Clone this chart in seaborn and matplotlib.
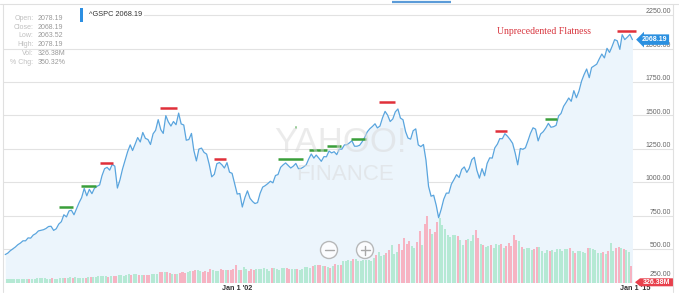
import numpy as np
import pandas as pd
import matplotlib
matplotlib.use("Agg")
import matplotlib.pyplot as plt
import matplotlib.transforms as mtransforms
from matplotlib.patches import Circle, Rectangle, Polygon
import seaborn as sns

# ---------------- data ----------------
# S&P 500 month-end closes, Dec 1994 .. Jun 2015
close = [459,
    470, 487, 501, 515, 533, 545, 562, 562, 584, 582, 605, 616,
    636, 640, 645, 654, 669, 671, 640, 652, 687, 705, 757, 741,
    786, 791, 757, 801, 848, 885, 954, 899, 947, 915, 955, 970,
    980, 1049, 1102, 1112, 1091, 1134, 1121, 957, 1017, 1099, 1164, 1229,
    1280, 1238, 1286, 1335, 1302, 1373, 1329, 1320, 1283, 1363, 1389, 1469,
    1394, 1366, 1499, 1452, 1421, 1455, 1431, 1518, 1437, 1429, 1315, 1320,
    1366, 1240, 1160, 1249, 1256, 1224, 1211, 1134, 1041, 1060, 1139, 1148,
    1130, 1107, 1147, 1076, 1067, 990, 912, 916, 815, 886, 936, 880,
    856, 841, 848, 917, 964, 975, 990, 1008, 996, 1051, 1058, 1112,
    1131, 1145, 1126, 1107, 1121, 1141, 1102, 1104, 1115, 1130, 1174, 1212,
    1181, 1204, 1181, 1157, 1192, 1191, 1234, 1220, 1229, 1207, 1249, 1248,
    1280, 1281, 1295, 1311, 1270, 1270, 1277, 1304, 1336, 1378, 1401, 1418,
    1438, 1407, 1421, 1482, 1531, 1503, 1455, 1474, 1527, 1549, 1481, 1468,
    1379, 1331, 1323, 1386, 1400, 1280, 1267, 1283, 1166, 969, 896, 903,
    826, 735, 798, 873, 919, 919, 987, 1021, 1057, 1036, 1096, 1115,
    1074, 1104, 1169, 1187, 1089, 1031, 1102, 1049, 1141, 1183, 1181, 1258,
    1286, 1327, 1326, 1364, 1345, 1321, 1292, 1219, 1131, 1253, 1247, 1258,
    1312, 1366, 1408, 1398, 1310, 1362, 1379, 1407, 1441, 1412, 1416, 1426,
    1498, 1515, 1569, 1598, 1631, 1606, 1686, 1633, 1682, 1757, 1806, 1848,
    1783, 1859, 1872, 1884, 1924, 1960, 1931, 2003, 1972, 2018, 2068, 2059,
    1995, 2105, 2068, 2086, 2107, 2068]
close_dates = pd.date_range("1994-12-31", periods=len(close), freq="ME")

# average daily volume (billions of shares), Jan 1995 .. Jun 2015
volume = [
    0.33, 0.34, 0.35, 0.36, 0.36, 0.37, 0.37, 0.36, 0.38, 0.38, 0.39, 0.40,
    0.45, 0.45, 0.43, 0.46, 0.41, 0.38, 0.43, 0.36, 0.40, 0.43, 0.45, 0.46,
    0.52, 0.53, 0.50, 0.53, 0.50, 0.52, 0.52, 0.50, 0.53, 0.62, 0.57, 0.57,
    0.66, 0.63, 0.65, 0.67, 0.60, 0.67, 0.67, 0.70, 0.76, 0.75, 0.70, 0.75,
    0.87, 0.80, 0.85, 0.90, 0.81, 0.78, 0.76, 0.74, 0.80, 0.90, 0.90, 0.91,
    1.05, 1.05, 1.13, 1.05, 0.95, 0.93, 0.90, 0.90, 0.98, 1.10, 1.00, 1.05,
    1.20, 1.15, 1.30, 1.30, 1.15, 1.10, 1.15, 1.10, 1.40, 1.30, 1.20, 1.25,
    1.40, 1.35, 1.30, 1.30, 1.30, 1.40, 1.85, 1.30, 1.35, 1.60, 1.40, 1.25,
    1.40, 1.35, 1.40, 1.40, 1.45, 1.55, 1.45, 1.25, 1.50, 1.50, 1.40, 1.35,
    1.55, 1.50, 1.55, 1.45, 1.40, 1.40, 1.40, 1.30, 1.40, 1.60, 1.60, 1.50,
    1.75, 1.80, 1.85, 1.80, 1.70, 1.75, 1.60, 1.55, 1.70, 1.90, 1.80, 1.80,
    2.20, 2.25, 2.30, 2.25, 2.45, 2.40, 2.25, 2.20, 2.30, 2.35, 2.35, 2.25,
    2.60, 2.90, 3.20, 2.80, 2.90, 3.10, 3.40, 3.90, 3.00, 3.20, 4.00, 3.40,
    4.60, 4.00, 4.30, 3.80, 3.60, 4.20, 5.40, 3.90, 6.10, 6.95, 5.60, 5.10,
    5.30, 6.30, 6.70, 6.00, 5.60, 5.00, 4.70, 5.00, 4.90, 4.80, 4.40, 3.90,
    4.40, 4.50, 4.30, 4.90, 5.50, 4.60, 4.00, 3.90, 3.70, 3.80, 3.90, 3.60,
    4.00, 3.90, 4.00, 3.60, 3.80, 4.10, 3.80, 4.90, 4.40, 4.30, 3.70, 3.50,
    3.60, 3.60, 3.40, 3.50, 3.70, 3.70, 3.30, 3.10, 3.40, 3.30, 3.40, 3.20,
    3.50, 3.50, 3.30, 3.50, 3.50, 3.60, 3.30, 3.10, 3.30, 3.30, 3.20, 3.10,
    3.60, 3.60, 3.50, 3.40, 3.10, 3.10, 3.20, 3.00, 3.30, 4.10, 3.30, 3.60,
    3.70, 3.60, 3.50, 3.40, 3.20, 1.70]
volume_dates = close_dates[1:] - pd.Timedelta(days=15)

# "flat" markers: start, end, level, colour key
flat_start = ["1996-10-05", "1997-06-25", "1998-02-06", "2000-01-23", "2001-10-27",
              "2003-12-01", "2004-06-20", "2004-12-01", "2005-07-01", "2006-04-22",
              "2007-03-18", "2011-01-01", "2012-08-15", "2015-01-01"]
flat_end = ["1997-03-20", "1997-12-20", "1998-07-12", "2000-08-15", "2002-03-18",
            "2004-09-27", "2004-07-03", "2005-07-01", "2005-12-20", "2006-10-12",
            "2007-09-28", "2011-05-22", "2013-01-08", "2015-08-10"]
flat_level = [813, 972, 1147, 1554, 1177, 1174, 1416, 1244, 1274, 1326,
              1599, 1384, 1472, 2132]
flat_kind = ["g", "g", "r", "r", "r", "g", "g", "g", "g", "g", "r", "r", "g", "r"]

price_ticks = [250, 500, 750, 1000, 1250, 1500, 1750, 2000, 2250]
price_tick_labels = ["250.00", "500.00", "750.00", "1000.00", "1250.00",
                     "1500.00", "1750.00", "2000.00", "2250.00"]
x_ticks = [pd.Timestamp("2002-01-01"), pd.Timestamp("2015-01-01")]
x_tick_labels = ["Jan 1 '02", "Jan 1 '15"]

info_labels = ["Open:", "Close:", "Low:", "High:", "Vol:", "% Chg:"]
info_values = ["2078.19", "2068.19", "2063.52", "2078.19", "326.38M", "350.32%"]
legend_text = "^GSPC 2068.19"
last_price_label = "2068.19"
last_volume_label = "326.38M"
annotation = "Unprecedented Flatness"

# ---------------- style ----------------
sns.set_style("white")
plt.rcParams["font.family"] = ["Liberation Sans", "DejaVu Sans"]

W, H = 679, 300
fig = plt.figure(figsize=(W / 100, H / 100), dpi=100)
fig.patch.set_facecolor("white")

ax_left, ax_right, ax_top, ax_bot = 2.7, 672.7, 4.0, 282.5
rect = [ax_left / W, (H - ax_bot) / H, (ax_right - ax_left) / W, (ax_bot - ax_top) / H]
ax = fig.add_axes(rect, zorder=1)
ax_v = ax.twinx()
ax_l = ax.twinx()
ax_v.set_zorder(2)
ax_l.set_zorder(3)
for a in (ax_v, ax_l):
    a.patch.set_visible(False)

ymin = 250
ymax = 2250 + (15.3 - ax_top) / 33.4 * 250
xmin = pd.Timestamp("1994-12-01")
xmax = pd.Timestamp("2016-10-23")

df = pd.DataFrame({"date": close_dates, "close": close})

# base: grid + fill
ax.fill_between(df["date"], df["close"], ymin, color="#ecf5fc", lw=0, zorder=1)
ax.set_ylim(ymin, ymax)
ax.set_xlim(xmin, xmax)
ax.set_yticks(price_ticks)
ax.set_yticklabels([])
ax.set_xticks(x_ticks)
ax.set_xticklabels([])
ax.tick_params(length=0)
ax.grid(True, color="#e2e2e2", lw=0.8, zorder=0)
for s in ax.spines.values():
    s.set_visible(False)

# volume bars
chg = np.diff(np.array(close))
bar_colors = ["#b5e9d4" if c >= 0 else "#f6b3c2" for c in chg]
ax_v.bar(volume_dates, volume, width=24, color=bar_colors, lw=0, align="center")
ax_v.set_ylim(0, (ax_bot - ax_top) / 9.6)
ax_v.set_xlim(xmin, xmax)
ax_v.set_yticks([])
for s in ax_v.spines.values():
    s.set_visible(False)

# price line
sns.lineplot(data=df, x="date", y="close", ax=ax_l, color="#5aa5de", lw=0.9)
colmap = {"r": "#e0303a", "g": "#3a9f3a"}
ax_l.hlines(flat_level, pd.to_datetime(flat_start), pd.to_datetime(flat_end),
            colors=[colmap[k] for k in flat_kind], lw=1.8)
ax_l.set_ylim(ymin, ymax)
ax_l.set_xlim(xmin, xmax)
ax_l.set_yticks([])
ax_l.set_xticks([])
ax_l.set_xlabel("")
ax_l.set_ylabel("")
for s in ax_l.spines.values():
    s.set_visible(False)

# y labels (right, above gridlines)
tr_y = mtransforms.blended_transform_factory(ax.transAxes, ax.transData)
lift = mtransforms.ScaledTranslation(0, 4.8 / 100, fig.dpi_scale_trans)
for v, lab in zip(price_ticks, price_tick_labels):
    t = tr_y + lift if v == 250 else tr_y
    ax_l.text(0.9975, v, lab, transform=t, ha="right", va="bottom",
              fontsize=5, color="#666666", zorder=5)

# x labels
tr_x = mtransforms.blended_transform_factory(ax.transData, ax.transAxes)
off = mtransforms.ScaledTranslation(2.5 / 100, 0, fig.dpi_scale_trans)
for d, lab in zip(x_ticks, x_tick_labels):
    ax.text(d, -0.008, lab, transform=tr_x + off, ha="left", va="top",
            fontsize=5.2, fontweight="bold", color="#333333", clip_on=False)

# last price callout
tr_l = mtransforms.blended_transform_factory(ax.transAxes, ax_l.transData)
ax_l.text(0.973, close[-1], last_price_label, transform=tr_l, ha="center", va="center",
          fontsize=5, fontweight="bold", color="white", zorder=10,
          bbox=dict(boxstyle="larrow,pad=0.25", fc="#2b90e0", ec="none"))

# ---------------- overlay decoration (pixel coords) ----------------
ov = fig.add_axes([0, 0, 1, 1], zorder=10)
ov.set_xlim(0, W)
ov.set_ylim(H, 0)
ov.axis("off")
ov.patch.set_visible(False)

# frame
ov.plot([0, W], [4, 4], color="#e0e0e0", lw=0.8)
ov.plot([2.7, 2.7], [4, 292], color="#e0e0e0", lw=0.8)
ov.plot([672.7, 672.7], [4, 292], color="#e0e0e0", lw=0.8)
ov.plot([392, 451], [2.4, 2.4], color="#5b9bd8", lw=1.6, solid_capstyle="butt")

# legend / info panel
ov.add_patch(Rectangle((3.2, 5), 141, 20, fc="white", ec="none"))
ov.add_patch(Rectangle((80, 8.3), 2.6, 13.4, fc="#2d8fe2", ec="none"))
ov.text(89.3, 15, legend_text, ha="left", va="center", fontsize=5.3, color="#333333")
for i, (lab, val) in enumerate(zip(info_labels, info_values)):
    y = 18.3 + 8.8 * i
    ov.text(33.5, y, lab, ha="right", va="center", fontsize=5, color="#c0c0c0")
    ov.text(37.7, y, val, ha="left", va="center", fontsize=5, color="#9a9a9a")

# annotation
ov.text(544, 31, annotation, ha="center", va="center", fontsize=7,
        family=["Liberation Serif", "DejaVu Serif"], color="#d8363f")

# watermark
ov.text(340, 142, "YAHOO!", ha="center", va="center", fontsize=25,
        color="#d9d9d9", alpha=0.5)
ov.text(345, 174, "FINANCE", ha="center", va="center", fontsize=16,
        color="#d9d9d9", alpha=0.5)

# zoom buttons
for cx, sign in [(329, "-"), (365, "+")]:
    ov.add_patch(Circle((cx, 250), 8.5, fc="white", ec="#a8a8a8", lw=1.0, alpha=0.8))
    ov.plot([cx - 4.5, cx + 4.5], [250, 250], color="#a8a8a8", lw=1.0)
    if sign == "+":
        ov.plot([cx, cx], [245.5, 254.5], color="#a8a8a8", lw=1.0)

# volume callout
ov.add_patch(Polygon([(635, 282.2), (640, 278.3), (673, 278.3), (673, 286.3), (640, 286.3)],
                     closed=True, fc="#e8404c", ec="none"))
ov.text(656.5, 282.4, last_volume_label, ha="center", va="center", fontsize=5,
        fontweight="bold", color="white")

fig.savefig("out.png", dpi=100, facecolor="white")
